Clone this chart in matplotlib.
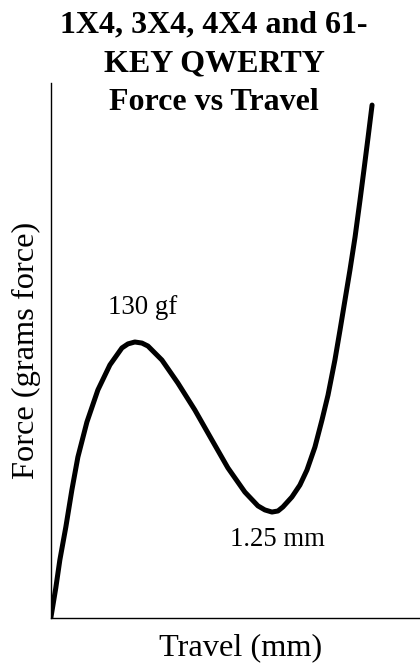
import matplotlib.pyplot as plt

plt.rcParams['font.family'] = ['Liberation Serif', 'DejaVu Serif']

# travel (mm) and force (gf)
travel = [0.0, 0.028, 0.051, 0.085, 0.119, 0.153, 0.204, 0.266, 0.334, 0.402,
          0.436, 0.475, 0.515, 0.549, 0.628, 0.718, 0.814, 0.911, 1.001, 1.097,
          1.171, 1.21, 1.25, 1.284, 1.312, 1.363, 1.408, 1.448, 1.493, 1.533,
          1.567, 1.606, 1.635, 1.663, 1.691, 1.72, 1.748, 1.77, 1.793, 1.816]
force = [0.0, 14.1, 27.3, 42.9, 60.3, 75.8, 92.3, 107.4, 119.2, 127.2,
         129.1, 130.0, 129.5, 128.1, 121.5, 110.7, 98.0, 83.8, 70.7, 59.3,
         52.8, 50.9, 49.9, 50.4, 52.3, 57.0, 62.6, 69.7, 80.5, 93.3,
         105.0, 121.5, 135.7, 149.8, 163.9, 179.5, 196.9, 211.0, 226.1, 241.6]

peak_label = "130 gf"
valley_label = "1.25 mm"

fig = plt.figure(figsize=(4.2, 6.65), dpi=100)
ax = fig.add_axes([0.121, 0.0707, 0.879, 0.8045])

ax.plot(travel, force, color='black', lw=3.6, solid_capstyle='round',
        solid_joinstyle='round')
ax.set_xlim(0, 2.087)
ax.set_ylim(0, 252)
ax.set_xticks([])
ax.set_yticks([])
for s in ['top', 'right']:
    ax.spines[s].set_visible(False)
for s in ['left', 'bottom']:
    ax.spines[s].set_linewidth(1.0)

ax.text(0.322, 143, peak_label, fontsize=19.3, ha='left', va='baseline')
ax.text(1.012, 34, valley_label, fontsize=19.3, ha='left', va='baseline')

fig.text(0.51, 0.985, "1X4, 3X4, 4X4 and 61-\nKEY QWERTY\nForce vs Travel",
         ha='center', va='top', fontsize=23, fontweight='bold', linespacing=1.46)
fig.text(26 / 420, 1 - 350 / 665, "Force (grams force)", rotation=90,
         ha='center', va='center', fontsize=23.3)
fig.text(241 / 420, 1 - 648 / 665, "Travel (mm)", ha='center', va='center', fontsize=23.3)

fig.savefig('out.png', dpi=100)
